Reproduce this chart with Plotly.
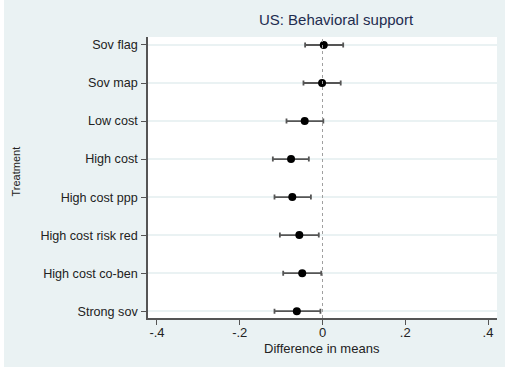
import plotly.graph_objects as go

treatments = ["Sov flag", "Sov map", "Low cost", "High cost", "High cost ppp",
              "High cost risk red", "High cost co-ben", "Strong sov"]
estimates = [0.003, -0.001, -0.043, -0.076, -0.073, -0.056, -0.049, -0.062]
ci_low = [-0.042, -0.046, -0.087, -0.120, -0.116, -0.103, -0.095, -0.116]
ci_high = [0.050, 0.044, 0.002, -0.033, -0.028, -0.009, -0.003, -0.005]
x_ticks = [-0.4, -0.2, 0, 0.2, 0.4]
x_tick_labels = ["-.4", "-.2", "0", ".2", ".4"]

positions = list(range(1, len(treatments) + 1))
err_plus = [h - e for h, e in zip(ci_high, estimates)]
err_minus = [e - l for e, l in zip(estimates, ci_low)]

W, H = 507, 381
L, R, T, B = 148, 497, 37, 318
pw, ph = R - L, B - T

def px_x(p):
    return (p - L) / pw

def px_y(p):
    return (B - p) / ph

BG = "#EAF2F3"
FONT = "Liberation Sans, Arial, sans-serif"
TXT = "#222222"

fig = go.Figure()
fig.add_trace(go.Scatter(
    x=estimates, y=positions, mode="markers",
    marker=dict(color="black", size=8),
    error_x=dict(type="data", symmetric=False, array=err_plus, arrayminus=err_minus,
                 color="#555555", thickness=1.8, width=2.5),
    showlegend=False,
))

fig.add_shape(type="rect", xref="paper", yref="paper",
              x0=px_x(4), x1=px_x(505), y0=px_y(367), y1=px_y(0),
              fillcolor=BG, line=dict(width=0), layer="below")
fig.add_shape(type="rect", xref="paper", yref="paper",
              x0=0, x1=1, y0=0, y1=1,
              fillcolor="white", line=dict(width=0), layer="below")
fig.add_shape(type="line", xref="x", yref="paper", x0=0, x1=0, y0=0, y1=1,
              line=dict(color="#a0a0a0", width=1, dash="dot"))

fig.add_annotation(text="Treatment", xref="paper", yref="paper",
                   x=px_x(15), y=px_y(171.5), textangle=-90, showarrow=False,
                   xanchor="center", yanchor="middle",
                   font=dict(family=FONT, size=11, color=TXT))
fig.add_annotation(text="Difference in means", xref="paper", yref="paper",
                   x=px_x(322), y=px_y(348.5), showarrow=False,
                   xanchor="center", yanchor="middle",
                   font=dict(family=FONT, size=13, color=TXT))

fig.update_layout(
    width=W, height=H,
    margin=dict(l=L, r=W - R, t=T, b=H - B, pad=0),
    paper_bgcolor="white", plot_bgcolor="white",
    font=dict(family=FONT, size=13, color=TXT),
    title=dict(text="US: Behavioral support", x=px_x(336), xref="paper", xanchor="center",
               y=1 - 20 / H, yref="container", yanchor="middle",
               font=dict(family=FONT, size=15, color="#1e2c4f")),
    xaxis=dict(range=[-0.4217, 0.4217], tickvals=x_ticks, ticktext=x_tick_labels,
               showgrid=False, zeroline=False, showline=True, linecolor="#555555", linewidth=1.5,
               ticks="outside", ticklen=5, tickcolor="#555555", tickwidth=1,
               ticklabelstandoff=-3,
               tickfont=dict(size=13, color=TXT)),
    yaxis=dict(range=[8.18, 0.79], tickvals=positions, ticktext=treatments,
               showgrid=True, gridcolor=BG, gridwidth=1.5, zeroline=False,
               showline=True, linecolor="#555555", linewidth=1.5,
               ticks="outside", ticklen=5, tickcolor="#555555", tickwidth=1,
               ticklabelstandoff=1,
               tickfont=dict(size=12.6, color=TXT)),
)

fig.write_html("out.html")
